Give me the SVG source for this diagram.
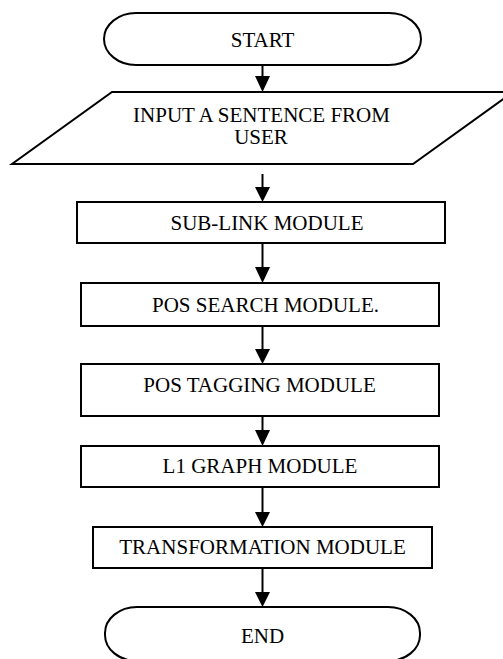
<svg xmlns="http://www.w3.org/2000/svg" width="503" height="659" viewBox="0 0 503 659">
<style>
.shape{fill:#fff;stroke:#000;stroke-width:2}
.lbl{font-family:"Liberation Serif","Times New Roman",serif;font-size:21px;fill:#000;text-anchor:middle}
.conn line{stroke:#000;stroke-width:2}
.conn polygon{fill:#000;stroke:none}
</style>
<rect width="503" height="659" fill="#fff"/>
<g id="start">
<rect class="shape" x="104" y="13" width="317" height="52" rx="32" ry="26"/>
<text class="lbl" x="262.5" y="47">START</text>
</g>
<g id="input">
<polygon class="shape" points="112,92 513,92 413,164 12,164"/>
<text class="lbl" x="261.5" y="122">INPUT A SENTENCE FROM</text>
<text class="lbl" x="261" y="144">USER</text>
</g>
<g id="sublink">
<rect class="shape" x="77" y="202" width="368" height="41"/>
<text class="lbl" x="267" y="230">SUB-LINK MODULE</text>
</g>
<g id="possearch">
<rect class="shape" x="81" y="283" width="358" height="43"/>
<text class="lbl" x="265.5" y="312">POS SEARCH MODULE.</text>
</g>
<g id="postagging">
<rect class="shape" x="81" y="364" width="358" height="52"/>
<text class="lbl" x="259.5" y="392">POS TAGGING MODULE</text>
</g>
<g id="l1graph">
<rect class="shape" x="81" y="446" width="358" height="41"/>
<text class="lbl" x="260" y="473">L1 GRAPH MODULE</text>
</g>
<g id="transformation">
<rect class="shape" x="93" y="527" width="339" height="41"/>
<text class="lbl" x="262.5" y="554">TRANSFORMATION MODULE</text>
</g>
<g id="end">
<rect class="shape" x="105" y="607" width="315" height="54" rx="32" ry="26"/>
<text class="lbl" x="262.5" y="643">END</text>
</g>
<g id="connectors" class="conn">
<line x1="262.5" y1="65" x2="262.5" y2="77"/>
<polygon points="255,76 270,76 262.5,92"/>
<line x1="262.5" y1="174" x2="262.5" y2="188"/>
<polygon points="255,187 270,187 262.5,202"/>
<line x1="262.5" y1="243" x2="262.5" y2="268"/>
<polygon points="255,267 270,267 262.5,283"/>
<line x1="262.5" y1="326" x2="262.5" y2="350"/>
<polygon points="255,349 270,349 262.5,364"/>
<line x1="262.5" y1="416" x2="262.5" y2="431"/>
<polygon points="255,430 270,430 262.5,446"/>
<line x1="262.5" y1="487" x2="262.5" y2="513"/>
<polygon points="255,512 270,512 262.5,527"/>
<line x1="262.5" y1="568" x2="262.5" y2="593"/>
<polygon points="255,592 270,592 262.5,607"/>
</g>
</svg>
